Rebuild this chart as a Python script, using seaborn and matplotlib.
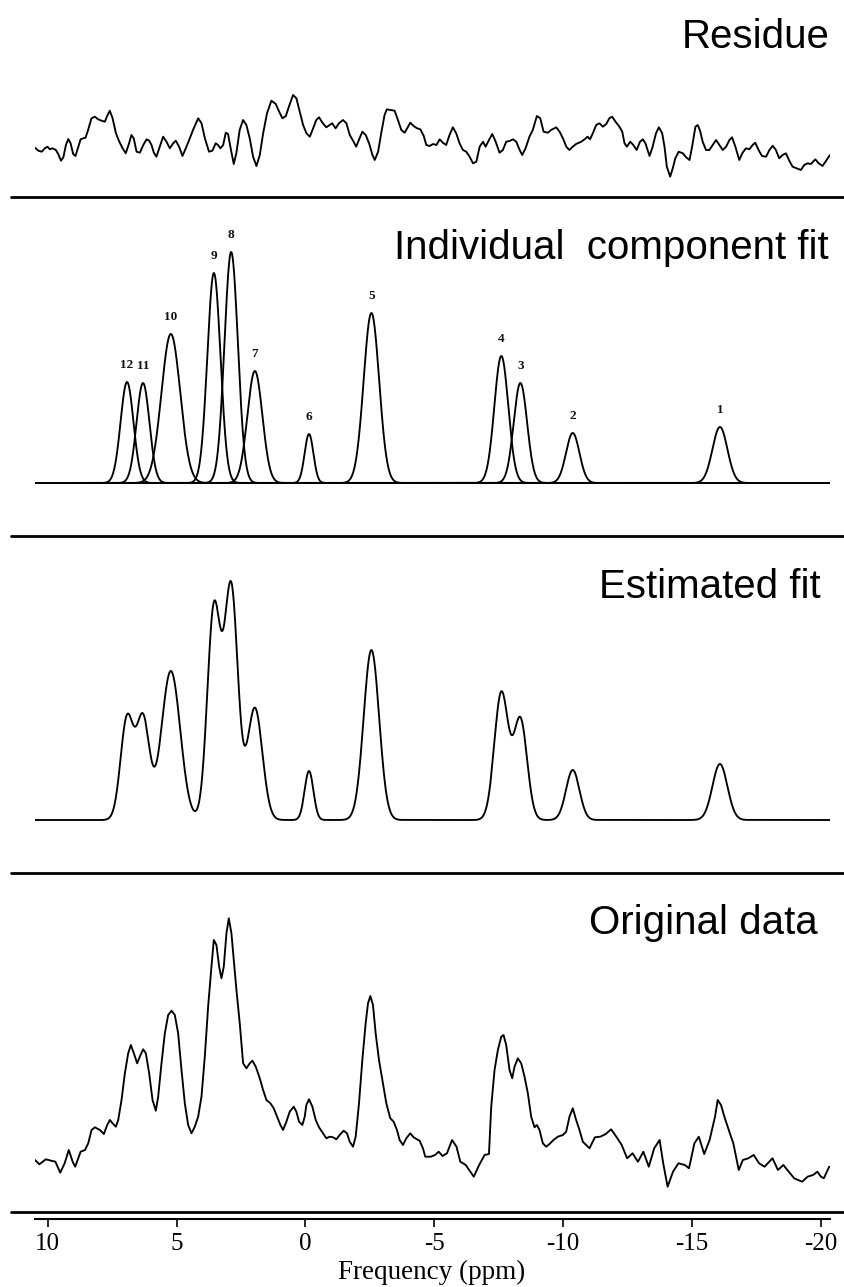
import numpy as np
import pandas as pd
import matplotlib
matplotlib.use("Agg")
import matplotlib.pyplot as plt
from matplotlib.lines import Line2D
import seaborn as sns

sns.set_theme(style="white")
plt.rcParams['font.family'] = ['Liberation Sans', 'DejaVu Sans']

# ---------------- data ----------------
# fitted components (ppm centre, height a.u., gaussian sigma ppm)
peak_ids = [1, 2, 3, 4, 5, 6, 7, 8, 9, 10, 11, 12]
peak_center = [-16.08, -10.37, -8.34, -7.60, -2.56, -0.14, 1.96, 2.88, 3.55, 5.22, 6.30, 6.92]
peak_height = [0.56, 0.50, 1.00, 1.27, 1.70, 0.49, 1.12, 2.31, 2.10, 1.49, 1.00, 1.01]
peak_sigma = [0.29, 0.26, 0.26, 0.27, 0.30, 0.17, 0.29, 0.26, 0.255, 0.365, 0.25, 0.25]

residue_ppm = [10.49, 10.36, 10.23, 10.11, 10.01, 9.91, 9.81, 9.68, 9.59, 9.48, 9.39, 9.29, 9.20, 9.11,
               9.01, 8.92, 8.81, 8.72, 8.62, 8.53, 8.43, 8.30, 8.17, 8.04, 7.91, 7.78, 7.69, 7.59, 7.48,
               7.35, 7.22, 7.09, 6.97, 6.84, 6.75, 6.66, 6.55, 6.42, 6.29, 6.16, 6.06, 5.97, 5.88, 5.78,
               5.65, 5.52, 5.39, 5.26, 5.13, 5.03, 4.90, 4.77, 4.64, 4.51, 4.36, 4.16, 4.03, 3.90, 3.74,
               3.61, 3.48, 3.39, 3.30, 3.19, 3.09, 3.00, 2.90, 2.78, 2.68, 2.55, 2.42, 2.29, 2.16, 2.03,
               1.90, 1.77, 1.64, 1.49, 1.32, 1.15, 1.02, 0.89, 0.76, 0.64, 0.48, 0.35, 0.22,
               0.09, -0.04, -0.17, -0.30, -0.42, -0.53, -0.66, -0.81, -0.94, -1.04, -1.17, -1.30, -1.46,
               -1.59, -1.72, -1.87, -1.97, -2.10, -2.21, -2.34, -2.47, -2.60, -2.69, -2.82, -2.94, -3.07,
               -3.16, -3.29, -3.46, -3.59, -3.72, -3.85, -3.98, -4.07, -4.20, -4.33, -4.46, -4.59, -4.69,
               -4.82, -4.95, -5.08, -5.21, -5.33, -5.46, -5.59, -5.72, -5.85, -5.98, -6.11, -6.24, -6.37,
               -6.50, -6.63, -6.76, -6.89, -6.99, -7.12, -7.25, -7.38, -7.53, -7.66, -7.79, -7.92, -8.05,
               -8.18, -8.31, -8.41, -8.54, -8.69, -8.82, -8.98, -9.11, -9.24, -9.41, -9.53, -9.73, -9.86,
               -9.99, -10.12, -10.24,
               -10.37, -10.50, -10.70, -10.83, -10.95, -11.04, -11.15, -11.28, -11.41, -11.54, -11.67,
               -11.79, -11.90, -12.03, -12.18, -12.29, -12.38, -12.47, -12.60, -12.72, -12.85, -12.98,
               -13.09, -13.19, -13.35, -13.47, -13.60, -13.71, -13.84, -13.93, -14.02, -14.15, -14.25,
               -14.35, -14.48, -14.64, -14.77, -14.90, -15.00, -15.13, -15.22, -15.31, -15.41, -15.54,
               -15.67, -15.80, -15.93, -16.06, -16.19, -16.32, -16.45, -16.55, -16.68, -16.83, -16.96,
               -17.09, -17.22, -17.35, -17.45, -17.58, -17.71, -17.87, -18.00, -18.13, -18.25, -18.38,
               -18.51, -18.64, -18.77, -18.90, -19.06, -19.22, -19.35, -19.48, -19.61, -19.78, -19.91,
               -20.06, -20.22, -20.35]
residue_val = [-0.037, -0.067, -0.077, -0.043, -0.027, -0.053, -0.043, -0.06, -0.10, -0.167, -0.133, -0.01,
               0.05, 0.007, -0.10, -0.12, -0.027, 0.047, 0.057, 0.063, 0.14, 0.257, 0.273, 0.247, 0.233,
               0.223, 0.28, 0.333, 0.257, 0.107, 0.023, -0.043, -0.093, 0.007, 0.09, 0.057, -0.077,
               -0.087, -0.01, 0.047, 0.033, -0.01, -0.087, -0.127, -0.027, 0.073, 0.023, -0.043, 0.007,
               0.033, -0.027, -0.12, -0.043, 0.04, 0.14, 0.257, 0.207, 0.057, -0.077, -0.067, 0.007,
               -0.01, -0.043, -0.01, 0.113, 0.10, -0.043, -0.20, -0.093, 0.14, 0.24, 0.19, 0.057, -0.127,
               -0.22, -0.11, 0.107, 0.307, 0.433, 0.40, 0.323, 0.257, 0.28, 0.373, 0.49, 0.457, 0.323,
               0.19, 0.107, 0.073, 0.157, 0.24, 0.267, 0.213, 0.167, 0.19, 0.207, 0.157, 0.207, 0.24,
               0.207, 0.09, 0.023, -0.027, 0.057, 0.123, 0.09, 0.007, -0.11, -0.16, -0.077, 0.107, 0.29,
               0.347, 0.34, 0.333, 0.24, 0.14, 0.113, 0.173, 0.213, 0.18, 0.157, 0.147, 0.08, -0.01,
               -0.02, 0.0, -0.01, 0.047, 0.013, -0.01, 0.09, 0.167, 0.107, 0.007, -0.06, -0.077, -0.127,
               -0.193, -0.177, -0.027, 0.023, -0.027, 0.04, 0.10, 0.023, -0.087, -0.06, 0.023, 0.03, 0.047,
               0.023, -0.06, -0.11, -0.043, 0.073, 0.14, 0.28, 0.257, 0.123, 0.113, 0.14, 0.167, 0.123,
               0.057, -0.027, -0.06,
               -0.027, 0.0, 0.023, 0.047, 0.073, 0.047, 0.107, 0.19, 0.207, 0.173, 0.20, 0.257, 0.273,
               0.223, 0.173, 0.123, 0.007, -0.027, 0.023, -0.01, -0.06, 0.023, 0.047, 0.007, -0.12,
               -0.027, 0.107, 0.167, 0.107, -0.027, -0.227, -0.327, -0.243, -0.143, -0.077, -0.093,
               -0.133, -0.16, -0.027, 0.173, 0.19, 0.133, 0.023, -0.06, -0.06, -0.01, 0.04, -0.01, -0.06,
               -0.027, 0.04, 0.067, -0.027, -0.16, -0.087, -0.043, -0.053, -0.01, 0.013, -0.06, -0.12,
               -0.127, -0.06, -0.017, -0.06, -0.143, -0.11, -0.093, -0.167, -0.227, -0.243, -0.26, -0.21,
               -0.193, -0.20, -0.153, -0.193, -0.22, -0.16, -0.11]

original_ppm = [10.49, 10.32, 10.07, 9.865, 9.70, 9.51, 9.34, 9.18, 9.03, 8.93, 8.72, 8.55,
                8.425, 8.296, 8.167, 7.973, 7.818, 7.689, 7.585, 7.482, 7.353, 7.262, 7.133, 7.004,
                6.875, 6.771, 6.655, 6.526, 6.397, 6.293, 6.19, 6.061, 5.931, 5.802, 5.712, 5.583,
                5.453, 5.324, 5.195, 5.066, 4.937, 4.807, 4.678, 4.549, 4.42, 4.291, 4.161, 4.032,
                3.903, 3.774, 3.645, 3.554, 3.451, 3.347, 3.257, 3.167, 3.063, 2.973, 2.87, 2.779,
                2.676, 2.547, 2.417, 2.288, 2.159, 2.056, 1.926, 1.771, 1.642, 1.513, 1.358, 1.229,
                1.1, 0.97, 0.867, 0.738, 0.609, 0.453, 0.35, 0.247, 0.118, 0.027,
                -0.037, -0.141, -0.27, -0.399, -0.528, -0.683, -0.813, -0.942, -1.071, -1.2, -1.329,
                -1.484, -1.614, -1.717, -1.846, -1.95, -2.079, -2.208, -2.337, -2.428, -2.518, -2.621,
                -2.725, -2.854, -3.009, -3.138, -3.293, -3.422, -3.552, -3.655, -3.784, -3.913, -4.068,
                -4.198, -4.327, -4.43, -4.559,
                -4.65, -4.86, -5.03, -5.17, -5.32, -5.49, -5.69, -5.86, -6.01, -6.22, -6.53, -6.74,
                -6.95, -7.12,
                -7.208, -7.337, -7.466, -7.596, -7.686, -7.789, -7.918, -8.022, -8.112, -8.241, -8.371,
                -8.5, -8.629, -8.758, -8.888, -8.978, -9.081, -9.21, -9.34, -9.469, -9.624, -9.792,
                -9.986, -10.115, -10.244, -10.373, -10.502, -10.632, -10.761,
                -11.02, -11.23, -11.44, -11.65, -11.86, -12.06, -12.27, -12.48, -12.69, -12.90, -13.11,
                -13.32, -13.53, -13.74, -13.88, -14.05, -14.26, -14.47, -14.72, -14.88, -15.09, -15.26,
                -15.47, -15.68, -15.89,
                -15.993, -16.122, -16.252, -16.381, -16.51,
                -16.60, -16.81, -16.97, -17.18, -17.39, -17.60, -17.81, -18.12, -18.33, -18.54, -18.75,
                -18.96, -19.27, -19.48, -19.69, -19.86, -20.00, -20.11, -20.32]
original_val = [-0.01, -0.053, -0.003, -0.017, -0.027, -0.137, -0.043, 0.09, -0.027, -0.077, 0.073, 0.09,
                0.157, 0.29, 0.317, 0.29, 0.25, 0.34, 0.39, 0.357, 0.323, 0.39, 0.59, 0.857,
                1.057, 1.14, 1.057, 0.957, 1.04, 1.097, 1.057, 0.857, 0.59, 0.483, 0.623, 0.957,
                1.257, 1.44, 1.483, 1.44, 1.257, 0.89, 0.557, 0.34, 0.257, 0.323, 0.423, 0.623,
                1.023, 1.523, 1.923, 2.19, 2.14, 1.923, 1.807, 1.923, 2.257, 2.407, 2.257, 1.99,
                1.69, 1.357, 0.957, 0.907, 0.957, 0.983, 0.923, 0.807, 0.69, 0.59, 0.557, 0.507,
                0.423, 0.34, 0.29, 0.373, 0.473, 0.523, 0.473, 0.373, 0.34, 0.423,
                0.54, 0.597, 0.523, 0.39, 0.317, 0.257, 0.207, 0.223, 0.217, 0.197, 0.24,
                0.283, 0.257, 0.173, 0.123, 0.223, 0.557, 0.99, 1.357, 1.557, 1.63, 1.54,
                1.257, 0.99, 0.757, 0.557, 0.407, 0.373, 0.29, 0.19, 0.14, 0.207, 0.257,
                0.217, 0.197, 0.183, 0.107,
                0.023, 0.023, 0.04, 0.073, 0.03, 0.057, 0.19, 0.123, -0.027, -0.06, -0.177, -0.06,
                0.04, 0.05,
                0.523, 0.89, 1.09, 1.223, 1.24, 1.14, 0.89, 0.807, 0.923, 1.007, 0.957,
                0.823, 0.657, 0.423, 0.317, 0.34, 0.29, 0.157, 0.123, 0.15, 0.19, 0.223,
                0.24, 0.273, 0.423, 0.507, 0.39, 0.29, 0.173,
                0.107, 0.217, 0.223, 0.25, 0.297, 0.223, 0.14, 0.007, 0.057, -0.027, 0.073,
                -0.077, 0.107, 0.19, -0.043, -0.277, -0.127, -0.043, -0.06, -0.093, 0.157, 0.223,
                0.05, 0.19, 0.423,
                0.59, 0.54, 0.423, 0.323, 0.223,
                0.157, -0.11, -0.01, 0.007, 0.04, -0.043, -0.077, 0.007, -0.11, -0.06, -0.127,
                -0.193, -0.227, -0.177, -0.16, -0.127, -0.177, -0.193, -0.077]

tick_values = [10, 5, 0, -5, -10, -15, -20]
panel_titles = ["Residue", "Individual  component fit", "Estimated fit", "Original data"]

# ---------------- layout (pixels of the 845x1287 canvas) ----------------
W, H = 845, 1287
XL, XR = 35, 830
XLIM = (10.49, -20.35)
SEP_Y = [197, 536, 873, 1212]
BASE_OFF = 53          # baseline sits this many px above the panel's bottom separator
PX_PER_UNIT = 100.0

fig = plt.figure(figsize=(W / 100, H / 100), dpi=100)
fig.patch.set_facecolor('white')


def panel(top_px, bottom_px):
    ax = fig.add_axes([XL / W, 1 - bottom_px / H, (XR - XL) / W, (bottom_px - top_px) / H])
    ax.set_xlim(*XLIM)
    base = bottom_px - BASE_OFF
    ax.set_ylim(-(bottom_px - base) / PX_PER_UNIT, (base - top_px) / PX_PER_UNIT)
    ax.axis('off')
    ax.patch.set_alpha(0)
    return ax


ax_res = panel(0, SEP_Y[0])
ax_ind = panel(SEP_Y[0], SEP_Y[1])
ax_est = panel(SEP_Y[1], SEP_Y[2])
ax_org = panel(SEP_Y[2], SEP_Y[3])

LW = 1.35
grid = np.linspace(XLIM[0], XLIM[1], 4000)

# residue
sns.lineplot(x=residue_ppm, y=residue_val, ax=ax_res, color='black', lw=LW, sort=False, estimator=None)

# individual components
rows = []
for pid, c, h, s in zip(peak_ids, peak_center, peak_height, peak_sigma):
    vals = h * np.exp(-0.5 * ((grid - c) / s) ** 2)
    rows.append(pd.DataFrame({'ppm': grid, 'intensity': vals, 'component': pid}))
comp_df = pd.concat(rows, ignore_index=True)
sns.lineplot(data=comp_df, x='ppm', y='intensity', units='component', estimator=None,
             color='black', lw=LW, ax=ax_ind, sort=False)
for pid, c, h in zip(peak_ids, peak_center, peak_height):
    ax_ind.text(c, h + 0.17, str(pid), ha='center', va='center', fontsize=9.5,
                family='Liberation Serif', fontweight='bold', color='#111111')

# estimated fit (sum of components)
fit_df = comp_df.groupby('ppm', as_index=False)['intensity'].sum()
sns.lineplot(data=fit_df, x='ppm', y='intensity', ax=ax_est, color='black', lw=LW, estimator=None)

# original data
sns.lineplot(x=original_ppm, y=original_val, ax=ax_org, color='black', lw=LW, sort=False, estimator=None)

# titles
title_right = [830, 829, 821, 818]
title_base = [48, SEP_Y[0] + 62, SEP_Y[1] + 62, SEP_Y[2] + 61]
for t, xr, yb in zip(panel_titles, title_right, title_base):
    fig.text(xr / W, 1 - yb / H, t, ha='right', va='baseline', fontsize=29,
             family=['Liberation Sans', 'DejaVu Sans'], color='black')

# separator lines
for y in SEP_Y:
    fig.add_artist(Line2D([11 / W, 1.0], [1 - y / H, 1 - y / H], transform=fig.transFigure,
                          color='black', lw=2.0))

# frequency axis
AXIS_Y = 1219
ax_x = fig.add_axes([XL / W, 1 - AXIS_Y / H, (XR - XL) / W, 2 / H])
ax_x.set_xlim(*XLIM)
ax_x.patch.set_alpha(0)
for sp in ['top', 'left', 'right']:
    ax_x.spines[sp].set_visible(False)
ax_x.spines['bottom'].set_linewidth(1.5)
ax_x.spines['bottom'].set_color('black')
ax_x.set_yticks([])
ax_x.set_xticks(tick_values)
ax_x.set_xticklabels([str(v) for v in tick_values])
ax_x.tick_params(axis='x', direction='out', length=6, width=1.2, pad=4, colors='black',
                 labelsize=18, bottom=True)
for lab in ax_x.get_xticklabels():
    lab.set_family('Liberation Serif')
ax_x.set_xlabel('Frequency (ppm)', family='Liberation Serif', fontsize=19.5, color='black')
ax_x.xaxis.set_label_coords(432 / W, 1 - 1272 / H, transform=fig.transFigure)
ax_x.xaxis.label.set_va('center')

fig.savefig('out.png', dpi=100, facecolor='white')
